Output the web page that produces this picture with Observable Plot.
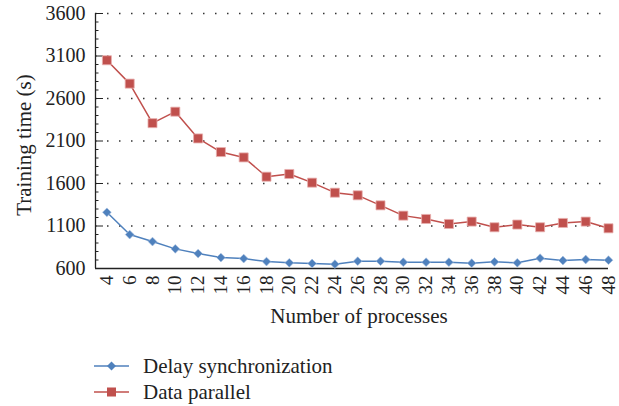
<!DOCTYPE html>
<html>
<head>
<meta charset="utf-8">
<script src="https://cdn.jsdelivr.net/npm/d3@7"></script>
<script src="https://cdn.jsdelivr.net/npm/@observablehq/plot@0.6"></script>
<style>
  html, body { margin: 0; padding: 0; background: #fff; }
  #wrap { position: relative; width: 619px; height: 406px; overflow: hidden; }
  #chart { position: absolute; left: 0; top: 0; }
  #legend { position: absolute; left: 94px; top: 353px; font-family: "Liberation Serif", "Times New Roman", "DejaVu Serif", serif; font-size: 21px; color: #222; }
  .row { display: flex; align-items: center; height: 26px; }
  .row svg { display: block; }
  .row span { margin-left: 14px; }
  #chart svg text { font-family: "Liberation Serif", "Times New Roman", "DejaVu Serif", serif; }
</style>
</head>
<body>
<div id="wrap"><div id="chart"></div><div id="legend"></div></div>
<script>
// ---- data ----
const processes = [4, 6, 8, 10, 12, 14, 16, 18, 20, 22, 24, 26, 28, 30, 32, 34, 36, 38, 40, 42, 44, 46, 48];
const delaySync = [1261, 999, 917, 831, 776, 729, 717, 682, 667, 659, 651, 686, 686, 674, 674, 674, 663, 678, 667, 721, 694, 706, 698];
const dataParallel = [3050, 2775, 2310, 2445, 2130, 1970, 1907, 1680, 1712, 1610, 1492, 1461, 1343, 1222, 1183, 1124, 1152, 1085, 1117, 1085, 1136, 1152, 1073];
const seriesNames = ["Delay synchronization", "Data parallel"];
const seriesColors = ["#4f81bd", "#c0504d"];
const xTicks = [4, 6, 8, 10, 12, 14, 16, 18, 20, 22, 24, 26, 28, 30, 32, 34, 36, 38, 40, 42, 44, 46, 48];
const yTicks = [600, 1100, 1600, 2100, 2600, 3100, 3600];
const yMinorTicks = [700, 800, 900, 1000, 1200, 1300, 1400, 1500, 1700, 1800, 1900, 2000, 2200, 2300, 2400, 2500, 2700, 2800, 2900, 3000, 3200, 3300, 3400, 3500];
const gridTicks = [1100, 1600, 2100, 2600, 3100, 3600];
const xDomain = [3, 48];
const yDomain = [600, 3600];
const xTitle = "Number of processes";
const yTitle = "Training time (s)";

const rows = [];
processes.forEach((p, i) => {
  rows.push({x: p, y: delaySync[i], s: seriesNames[0]});
  rows.push({x: p, y: dataParallel[i], s: seriesNames[1]});
});
const ds = rows.filter(d => d.s === seriesNames[0]);
const dp = rows.filter(d => d.s === seriesNames[1]);

const diamond = {
  draw(ctx, size) {
    const h = Math.sqrt(size / 2);
    ctx.moveTo(0, -h); ctx.lineTo(h, 0); ctx.lineTo(0, h); ctx.lineTo(-h, 0); ctx.closePath();
  }
};

const font = "'Liberation Serif', 'Times New Roman', 'DejaVu Serif', serif";
const fmt = d => String(d);

const chart = Plot.plot({
  width: 619,
  height: 345,
  marginTop: 13,
  marginBottom: 77,
  marginLeft: 95,
  marginRight: 11,
  style: {fontFamily: font, fontSize: "20px", color: "#222", background: "transparent"},
  x: {domain: xDomain, label: null},
  y: {domain: yDomain, label: null},
  marks: [
    Plot.gridY(gridTicks, {stroke: "#333", strokeOpacity: 1, strokeWidth: 1.4, strokeDasharray: "1.5,10.5"}),
    Plot.axisY(yMinorTicks, {tickSize: 3.5, dx: 3.5, tickFormat: () => "", label: null, stroke: "#222"}),
    Plot.axisY(yTicks, {tickSize: 8, dx: 8, tickFormat: () => "", label: null, stroke: "#222"}),
    Plot.axisY(yTicks, {tickSize: 0, tickPadding: 10, tickFormat: fmt, label: null, fontSize: 20, fill: "#222"}),
    Plot.axisX(xTicks, {tickSize: 0, tickPadding: 7, tickRotate: -90, tickFormat: fmt, label: null, fontSize: 19, fill: "#222"}),
    Plot.ruleX([xDomain[0]], {stroke: "#222", strokeWidth: 1.3}),
    Plot.ruleY([yDomain[0]], {stroke: "#222", strokeWidth: 1.6}),
    Plot.line(dp, {x: "x", y: "y", stroke: seriesColors[1], strokeWidth: 1.5}),
    Plot.line(ds, {x: "x", y: "y", stroke: seriesColors[0], strokeWidth: 1.5}),
    Plot.dot(dp, {x: "x", y: "y", symbol: "square", r: 5.1, fill: seriesColors[1], stroke: "#e8b0ae", strokeWidth: 0.8}),
    Plot.dot(ds, {x: "x", y: "y", symbol: diamond, r: 3.5, fill: seriesColors[0], stroke: "#a9c1e0", strokeWidth: 0.6}),
    Plot.text([yTitle], {frameAnchor: "left", dx: -71, dy: 4, rotate: -90, fontSize: 21, fill: "#222", textAnchor: "middle"}),
    Plot.text([xTitle], {frameAnchor: "bottom", dx: 7, dy: 54, fontSize: 21, fill: "#222", textAnchor: "middle"})
  ]
});
document.getElementById("chart").appendChild(chart);

// legend
const legend = document.getElementById("legend");
seriesNames.forEach((name, i) => {
  const row = document.createElement("div");
  row.className = "row";
  const c = seriesColors[i];
  const marker = i === 0
    ? `<path d="M17.5,8.5 L22,13 L17.5,17.5 L13,13 Z" fill="${c}"/>`
    : `<rect x="13" y="8.5" width="9" height="9" fill="${c}"/>`;
  row.innerHTML = `<svg width="35" height="26"><line x1="0" x2="35" y1="13" y2="13" stroke="${c}" stroke-width="1.5"/>${marker}</svg><span>${name}</span>`;
  legend.appendChild(row);
});
</script>
</body>
</html>
